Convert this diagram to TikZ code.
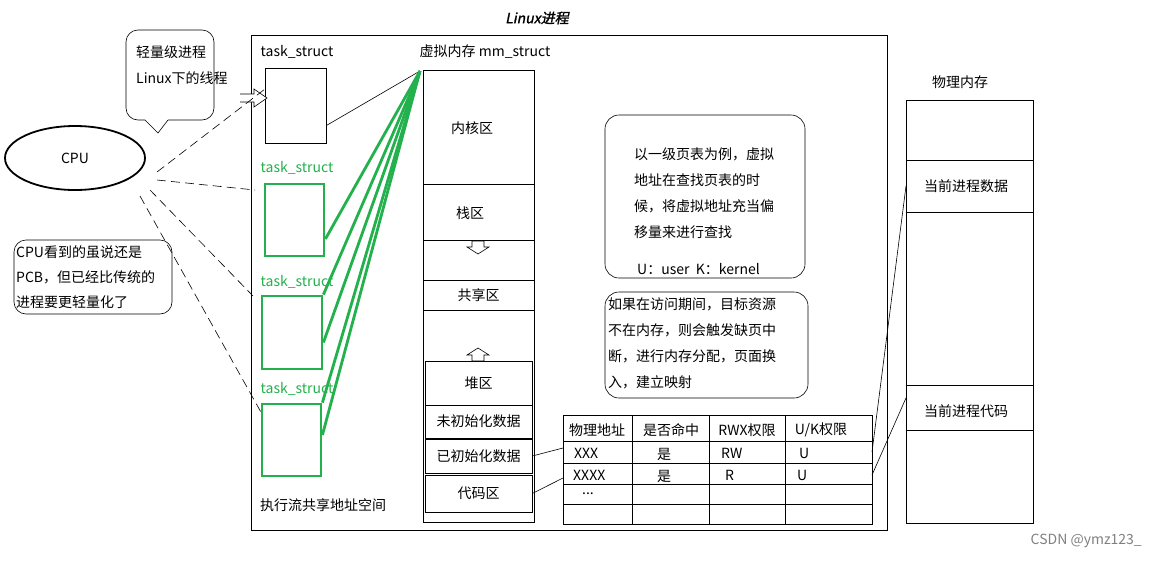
\documentclass[tikz,border=0pt]{standalone}
\usepackage{fontspec}
\setmainfont{Noto Sans CJK SC}
\newfontfamily\slantf{Noto Sans CJK SC}[FakeSlant=0.2,FakeBold=1.5]
\usetikzlibrary{shapes.geometric}
\definecolor{gr}{RGB}{34,177,76}
\begin{document}
\begin{tikzpicture}[x=1pt,y=-1pt,
  t/.style={font=\fontsize{14}{16}\selectfont,inner sep=0pt},
  bx/.style={draw,line width=0.6pt,inner sep=0pt,font=\fontsize{14}{16}\selectfont},
  g/.style={draw=gr,line width=2.8pt},
  gb/.style={draw=gr,line width=2.8pt,inner sep=0pt},
  thin/.style={draw,line width=0.6pt},
  dsh/.style={draw,dash pattern=on 9pt off 5pt,line width=0.6pt}]
\useasboundingbox (0,0) rectangle (1157,560);
\node[font=\fontsize{14}{16}\slantf,inner sep=0pt] (title) at (537,18) {Linux进程};
\draw[thin] (251,35) rectangle (887,530);
% callouts
\draw[thin,rounded corners=12pt] (145,120) -- (126,120) -- (126,30) -- (214,30) -- (214,120) -- (168,120);
\draw[thin] (145,120) -- (158,133) -- (168,120);
\node[t,anchor=west] (c1) at (136,52) {轻量级进程};
\node[t,anchor=west] (c2) at (136,78) {Linux下的线程};
\draw[thin,rounded corners=12pt] (14,240) rectangle (172,314);
\node[t,anchor=west] (l1) at (16,252) {CPU看到的虽说还是};
\node[t,anchor=west] (l2) at (16,277) {PCB，但已经比传统的};
\node[t,anchor=west] (l3) at (16,302) {进程要更轻量化了};
% CPU
\node[ellipse,draw,line width=1.8pt,minimum width=140pt,minimum height=64pt,font=\fontsize{14}{16}\selectfont] (cpu) at (75,158) {CPU};
% task structs
\node[t] (ts0) at (297,52) {task\_struct};
\node[draw,line width=0.8pt,minimum width=61pt,minimum height=75pt,inner sep=0pt] (b0) at (295.5,105.5) {};
\node[t,text=gr] (ts1) at (297,168) {task\_struct};
\node[gb,minimum width=59pt,minimum height=72pt] (b1) at (294.5,220) {};
\node[t,text=gr] (ts2) at (297,282) {task\_struct};
\node[gb,minimum width=60pt,minimum height=73pt] (b2) at (292,332.5) {};
\node[t,text=gr] (ts3) at (297,389) {task\_struct};
\node[gb,minimum width=59pt,minimum height=72pt] (b3) at (291.5,440) {};
\node[t] (share) at (323,505) {执行流共享地址空间};
% hollow arrow
\draw[thin,fill=white] (240,94) -- (254,94) -- (254,89) -- (267,98) -- (254,107) -- (254,102) -- (240,102);
% dashed
\coordinate (d0) at (265,89);
\coordinate (d1) at (255,190);
\coordinate (d2) at (253,296);
\coordinate (d3) at (262,414);
\draw[dsh] (157,172) -- (d0);
\draw[dsh] (157,180) -- (d1);
\draw[dsh] (150,190) -- (d2);
\draw[dsh] (140,196) -- (d3);
% mm
\node[t] (mm) at (485,52) {虚拟内存 mm\_struct};
\coordinate (mmtop) at (420,71);
\draw[thin] (423,70) rectangle (534,522);
\draw[thin] (423,184) -- (534,184);
\draw[thin] (423,240) -- (534,240);
\node[t] (k) at (472,128) {内核区};
\node[t] (s) at (470,213) {栈区};
\draw[thin] (472,241) -- (484,241) -- (484,247) -- (489,247) -- (478,254) -- (467,247) -- (472,247) -- cycle;
\node[bx,minimum width=111pt,minimum height=30pt] (sh) at (478.5,295) {共享区};
\draw[thin] (472,361) -- (484,361) -- (484,355) -- (489,355) -- (478,348) -- (467,355) -- (472,355) -- cycle;
\node[bx,minimum width=107pt,minimum height=44pt] (heap) at (478.5,383) {堆区};
\node[bx,minimum width=107pt,minimum height=33pt] (bss) at (478.5,421.5) {未初始化数据};
\node[bx,minimum width=107pt,minimum height=34pt] (data) at (478.5,456) {已初始化数据};
\node[bx,minimum width=107pt,minimum height=37pt] (code) at (478.5,493.5) {代码区};
\draw[line width=0.6pt] (b0.east) ++(0,20) -- (mmtop);
\draw[g] (b1.east) ++(0,19) -- (mmtop);
\draw[g] (b2.north east) -- (mmtop);
\draw[g] (b2.east) ++(0,10) -- (mmtop);
\draw[g] (b3.north east) -- (mmtop);
\draw[g] (b3.east) ++(0,-5) -- (mmtop);
% notes
\draw[thin,rounded corners=14pt] (605,115) rectangle (805,278);
\node[t,anchor=west] (n1) at (634,154) {以一级页表为例，虚拟};
\node[t,anchor=west] (n2) at (634,180) {地址在查找页表的时};
\node[t,anchor=west] (n3) at (634,206) {候，将虚拟地址充当偏};
\node[t,anchor=west] (n4) at (634,232) {移量来进行查找};
\node[t,anchor=west] (n5) at (637,269) {U：user\ \ K：kernel};
\draw[thin,rounded corners=14pt] (605,292) rectangle (808,398);
\node[t,anchor=west] (m1) at (608,304) {如果在访问期间，目标资源};
\node[t,anchor=west] (m2) at (608,330) {不在内存，则会触发缺页中};
\node[t,anchor=west] (m3) at (608,356) {断，进行内存分配，页面换};
\node[t,anchor=west] (m4) at (608,382) {入，建立映射};
% table
\draw[thin] (563,415) rectangle (872,524);
\foreach \y in {441,463,484,504} \draw[thin] (563,\y) -- (872,\y);
\foreach \x in {632,709,785} \draw[thin] (\x,415) -- (\x,524);
\node[t] (h1) at (597,430) {物理地址};
\node[t] (h2) at (671,430) {是否命中};
\node[t] (h3) at (747,430) {RWX权限};
\node[t] (h4) at (821,430) {U/K权限};
\node[t,anchor=west] (r11) at (574,453) {XXX};
\node[t] (r12) at (664,454) {是};
\node[t,anchor=west] (r13) at (721,453) {RW};
\node[t,anchor=west] (r14) at (799,453) {U};
\node[t,anchor=west] (r21) at (573,475) {XXXX};
\node[t] (r22) at (664,476) {是};
\node[t,anchor=west] (r23) at (725,475) {R};
\node[t,anchor=west] (r24) at (797,475) {U};
\node[t,anchor=west] (r31) at (582,494) {...};
\coordinate (tr1) at (563,448);
\coordinate (tr2) at (563,478);
\draw[line width=0.6pt] (data.east) -- (tr1);
\draw[line width=0.6pt] (code.east) -- (tr2);
% physical memory
\node[t] (pm) at (960,82) {物理内存};
\draw[thin] (906,100) rectangle (1033,523);
\draw[thin] (906,160) -- (1033,160);
\draw[thin] (906,212) -- (1033,212);
\draw[thin] (906,385) -- (1033,385);
\draw[thin] (906,430) -- (1033,430);
\node[t] (pd) at (966,186) {当前进程数据};
\node[t] (pc) at (966,411) {当前进程代码};
\coordinate (ta) at (872,452);
\coordinate (tb) at (872,475);
\coordinate (pa) at (906,186);
\coordinate (pb) at (906,398);
\draw[line width=0.6pt] (ta) -- (pa);
\draw[line width=0.6pt] (tb) -- (pb);
\node[font=\fontsize{14}{16}\selectfont,text=gray,anchor=east,inner sep=0pt] (wm) at (1142,541) {CSDN @ymz123\_};
\end{tikzpicture}
\end{document}
